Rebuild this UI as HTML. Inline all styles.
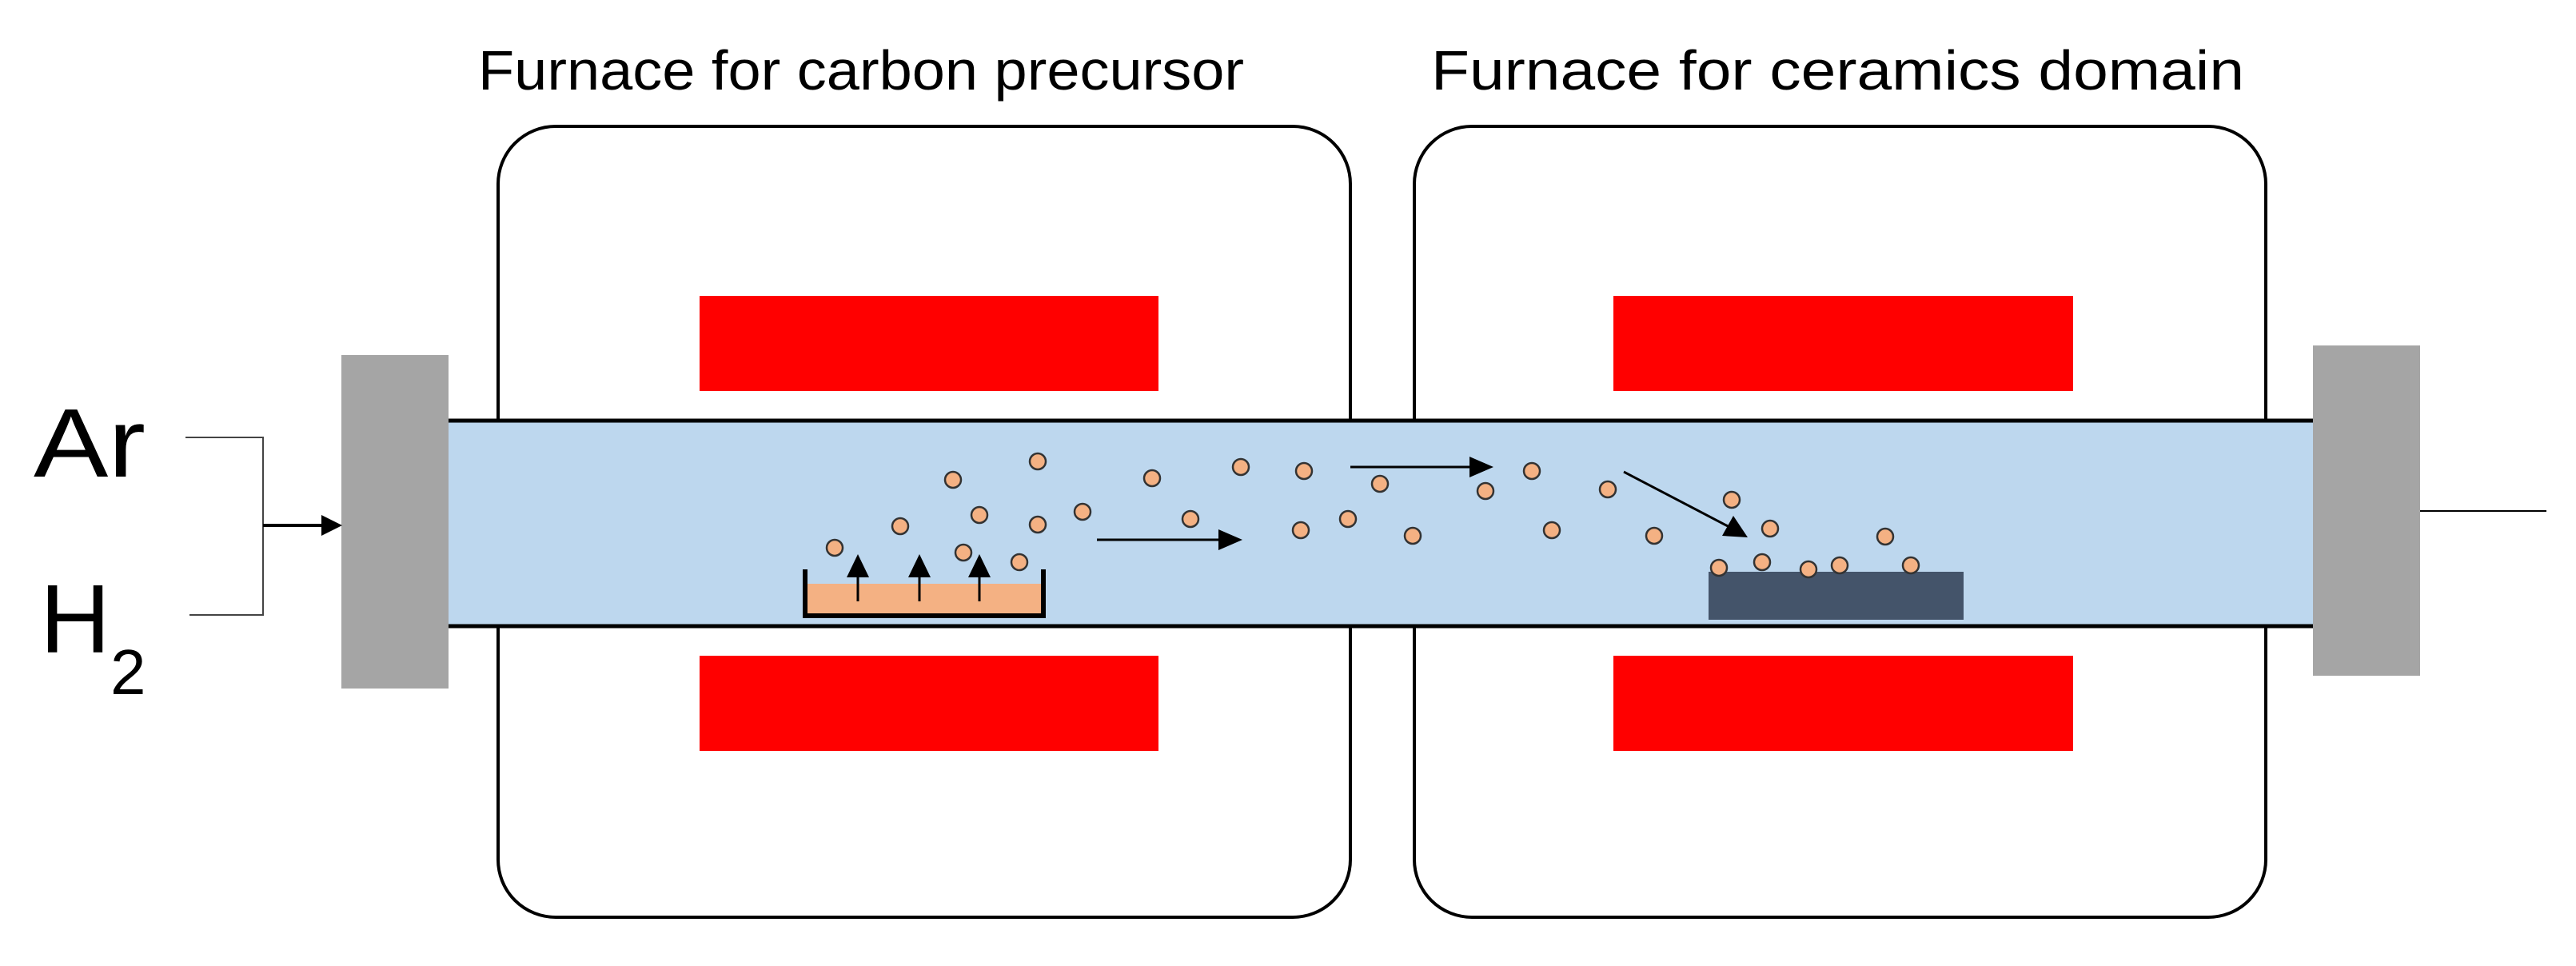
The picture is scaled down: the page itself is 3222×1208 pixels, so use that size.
<!DOCTYPE html>
<html><head><meta charset="utf-8"><style>
html,body{margin:0;padding:0;background:#fff;}
svg{display:block;}
</style></head><body>
<svg width="3222" height="1208" viewBox="0 0 3222 1208" xmlns="http://www.w3.org/2000/svg">
<rect width="3222" height="1208" fill="#fff"/>
<text x="598" y="112" font-family="Liberation Sans, sans-serif" font-size="70" textLength="958" lengthAdjust="spacingAndGlyphs" fill="#000">Furnace for carbon precursor</text>
<text x="1790" y="112" font-family="Liberation Sans, sans-serif" font-size="70" textLength="1017" lengthAdjust="spacingAndGlyphs" fill="#000">Furnace for ceramics domain</text>
<rect x="623" y="158" width="1066" height="989" rx="72" fill="#fff" stroke="#000" stroke-width="4"/>
<rect x="1769" y="158" width="1065" height="989" rx="72" fill="#fff" stroke="#000" stroke-width="4"/>
<rect x="875" y="370" width="574" height="119" fill="#ff0000"/>
<rect x="875" y="820" width="574" height="119" fill="#ff0000"/>
<rect x="2018" y="370" width="575" height="119" fill="#ff0000"/>
<rect x="2018" y="820" width="575" height="119" fill="#ff0000"/>
<rect x="561" y="526" width="2332" height="257" fill="#bdd7ee"/>
<line x1="561" y1="526" x2="2893" y2="526" stroke="#000" stroke-width="5"/>
<line x1="561" y1="783" x2="2893" y2="783" stroke="#000" stroke-width="5"/>
<rect x="427" y="444" width="134" height="417" fill="#a5a5a5"/>
<rect x="2893" y="432" width="134" height="413" fill="#a5a5a5"/>
<line x1="3027" y1="639" x2="3185" y2="639" stroke="#000" stroke-width="2"/>
<text x="42" y="596" font-family="Liberation Sans, sans-serif" font-size="122" textLength="140" lengthAdjust="spacingAndGlyphs" fill="#000">Ar</text>
<text x="50" y="816" font-family="Liberation Sans, sans-serif" font-size="122" fill="#000">H</text>
<text x="138" y="868" font-family="Liberation Sans, sans-serif" font-size="80" fill="#000">2</text>
<polyline points="232,547 329,547 329,769 237,769" fill="none" stroke="#444" stroke-width="2"/>
<line x1="329" y1="657" x2="408" y2="657" stroke="#000" stroke-width="4"/>
<polygon points="428,657 402,644 402,670" fill="#000"/>
<rect x="1007" y="730" width="298" height="40" fill="#f4b183"/>
<polyline points="1007,712 1007,770 1305,770 1305,712" fill="none" stroke="#000" stroke-width="6"/>
<g stroke="#000" stroke-width="3">
<line x1="1073" y1="752" x2="1073" y2="715"/><line x1="1150" y1="752" x2="1150" y2="715"/><line x1="1225" y1="752" x2="1225" y2="715"/>
</g>
<g fill="#000">
<polygon points="1073,693 1059,722 1087,722"/><polygon points="1150,693 1136,722 1164,722"/><polygon points="1225,693 1211,722 1239,722"/>
</g>
<rect x="2137" y="715" width="319" height="60" fill="#44546a"/>
<line x1="1372" y1="675" x2="1528" y2="675" stroke="#000" stroke-width="3"/>
<polygon points="1554,675 1524,662 1524,688" fill="#000"/>
<line x1="1689" y1="584" x2="1842" y2="584" stroke="#000" stroke-width="3"/>
<polygon points="1868,584 1838,571 1838,597" fill="#000"/>
<line x1="2031" y1="590" x2="2165" y2="660" stroke="#000" stroke-width="3"/>
<polygon points="2186,672 2154,670 2168,645" fill="#000"/>
<g fill="#f4b183" stroke="#333" stroke-width="2.5">
<circle cx="1044" cy="685" r="10"/><circle cx="1126" cy="658" r="10"/><circle cx="1192" cy="600" r="10"/><circle cx="1298" cy="577" r="10"/><circle cx="1225" cy="644" r="10"/><circle cx="1298" cy="656" r="10"/><circle cx="1205" cy="691" r="10"/><circle cx="1275" cy="703" r="10"/><circle cx="1354" cy="640" r="10"/><circle cx="1441" cy="598" r="10"/><circle cx="1489" cy="649" r="10"/><circle cx="1552" cy="584" r="10"/><circle cx="1631" cy="589" r="10"/><circle cx="1627" cy="663" r="10"/><circle cx="1686" cy="649" r="10"/>
<circle cx="1726" cy="605" r="10"/><circle cx="1858" cy="614" r="10"/><circle cx="1916" cy="589" r="10"/><circle cx="2011" cy="612" r="10"/><circle cx="1767" cy="670" r="10"/><circle cx="1941" cy="663" r="10"/><circle cx="2069" cy="670" r="10"/><circle cx="2166" cy="625" r="10"/><circle cx="2214" cy="661" r="10"/><circle cx="2358" cy="671" r="10"/><circle cx="2150" cy="710" r="10"/><circle cx="2204" cy="703" r="10"/><circle cx="2262" cy="712" r="10"/><circle cx="2301" cy="707" r="10"/><circle cx="2390" cy="707" r="10"/>
</g>
</svg>
</body></html>
